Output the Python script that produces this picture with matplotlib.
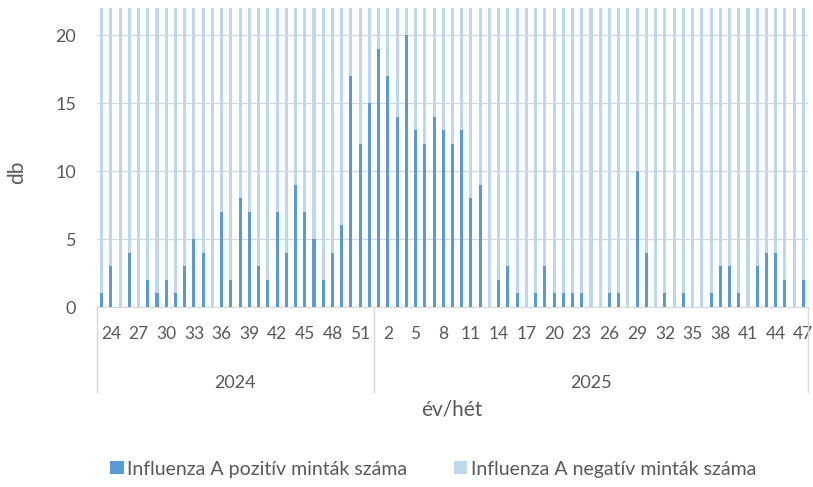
import numpy as np
import matplotlib
matplotlib.use("Agg")
import matplotlib.pyplot as plt
import matplotlib.transforms as mtransforms

plt.rcParams['font.family'] = ['Lato', 'DejaVu Sans']

years = ["2024", "2025"]
weeks_2024 = list(range(23, 53))
weeks_2025 = list(range(1, 48))

positive_2024 = [1, 3, 0, 4, 0, 2, 1, 2, 1, 3, 5, 4, 0, 7, 2, 8, 7, 3, 2, 7,
                 4, 9, 7, 5, 2, 4, 6, 17, 12, 15]
positive_2025 = [19, 17, 14, 20, 13, 12, 14, 13, 12, 13, 8, 9, 0, 2, 3, 1, 0, 1, 3, 1,
                 1, 1, 1, 0, 0, 1, 1, 0, 10, 4, 0, 1, 0, 1, 0, 0, 1, 3, 3, 1,
                 0, 3, 4, 4, 2, 0, 2]
# negative counts run far above the visible axis range; estimates only
negative_2024 = [40, 38, 42, 45, 39, 41, 44, 40, 43, 46, 42, 45, 48, 44, 47, 50, 49, 52,
                 55, 58, 60, 62, 65, 70, 72, 75, 80, 85, 70, 60]
negative_2025 = [90, 95, 100, 98, 92, 88, 85, 80, 75, 70, 65, 60, 55, 50, 48, 45, 42, 40,
                 38, 36, 35, 34, 33, 32, 30, 31, 30, 29, 32, 33, 30, 31, 30, 32, 31, 30,
                 33, 34, 35, 36, 38, 40, 42, 44, 45, 46, 48]

legend_labels = ["Influenza A pozitív minták száma", "Influenza A negatív minták száma"]
y_label = "db"
x_label = "év/hét"

pos = np.array(positive_2024 + positive_2025)
neg = np.array(negative_2024 + negative_2025)
week_labels = [str(w) for w in weeks_2024 + weeks_2025]
n = len(pos)
x = np.arange(n)

c_pos = "#5B9BD5"
c_neg = "#BDD7EE"
grey_txt = "#595959"
grid_c = "#D9D9D9"

fig = plt.figure(figsize=(8.13, 4.87), dpi=100)
ax = fig.add_axes([97/813, 1-307/487, (808-97)/813, (307-8)/487])

bw = 0.33
ax.bar(x, pos, width=bw, color=c_pos, zorder=3, label=legend_labels[0])
ax.bar(x, neg, bottom=pos, width=bw, color=c_neg, zorder=3, label=legend_labels[1])

ax.set_xlim(-0.5, n - 0.5)
ax.set_ylim(0, 22)
ax.set_yticks([0, 5, 10, 15, 20])
ax.yaxis.grid(True, color=grid_c, lw=1, zorder=0)
ax.tick_params(axis='y', length=0, labelsize=13, labelcolor=grey_txt, pad=15)
for s in ["top", "right", "left"]:
    ax.spines[s].set_visible(False)
ax.spines["bottom"].set_color(grid_c)

tick_idx = list(range(1, n, 3))
ax.set_xticks(tick_idx)
ax.set_xticklabels([week_labels[i] for i in tick_idx])
ax.tick_params(axis='x', length=0, labelsize=12.5, labelcolor=grey_txt, pad=14)

trans = mtransforms.blended_transform_factory(ax.transData, ax.transAxes)
n24 = len(weeks_2024)
for xb in [-0.5, n24 - 0.5, n - 0.5]:
    ax.plot([xb, xb], [0, -0.285], transform=trans, color=grid_c, lw=1, clip_on=False)
ax.text((n24 - 1) / 2, -0.253, years[0], transform=trans, ha='center', va='center',
        fontsize=13, color=grey_txt)
ax.text((n24 + n - 1) / 2, -0.253, years[1], transform=trans, ha='center', va='center',
        fontsize=13, color=grey_txt)

fig.text(17/813, 1-172/487, y_label, rotation=90, ha='center', va='center',
         fontsize=15, color=grey_txt)
fig.text(452/813, 1-410/487, x_label, ha='center', va='center',
         fontsize=15, color=grey_txt)

fig.legend(loc='center', bbox_to_anchor=(433.5/813, 1-469/487), ncol=2,
           frameon=False, fontsize=14, handlelength=0.67, handleheight=0.67,
           handletextpad=0.2, columnspacing=2.4, labelcolor=grey_txt)

fig.savefig("out.png", dpi=100)
